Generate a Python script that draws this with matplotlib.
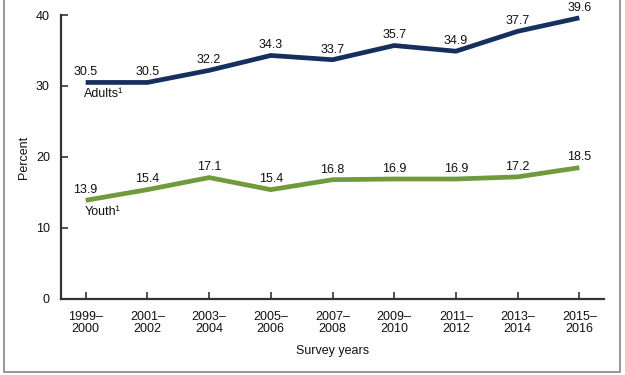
import matplotlib
matplotlib.use('Agg')
import matplotlib.pyplot as plt
from matplotlib.lines import Line2D

plt.rcParams['font.family'] = ['Liberation Sans', 'DejaVu Sans']

# Survey periods and prevalence (percent)
periods = ['1999–\n2000', '2001–\n2002', '2003–\n2004', '2005–\n2006', '2007–\n2008',
           '2009–\n2010', '2011–\n2012', '2013–\n2014', '2015–\n2016']
adults = [30.5, 30.5, 32.2, 34.3, 33.7, 35.7, 34.9, 37.7, 39.6]
youth = [13.9, 15.4, 17.1, 15.4, 16.8, 16.9, 16.9, 17.2, 18.5]

navy = '#15305f'
green = '#6f9b3c'

fig = plt.figure(figsize=(6.25, 3.75), dpi=100)
ax = fig.add_axes([0.0976, 0.2027, 0.8688, 0.7573])

x = list(range(len(periods)))
ax.plot(x, adults, color=navy, linewidth=3.4, solid_capstyle='butt', solid_joinstyle='miter')
ax.plot(x, youth, color=green, linewidth=3.4, solid_capstyle='butt', solid_joinstyle='miter')

# value labels above each point
for xi, v in zip(x, adults):
    ax.annotate(f'{v}', (xi, v), xytext=(0, 3), textcoords='offset points',
                ha='center', va='bottom', fontsize=9, color='#111111')
for xi, v in zip(x, youth):
    ax.annotate(f'{v}', (xi, v), xytext=(0, 3), textcoords='offset points',
                ha='center', va='bottom', fontsize=9, color='#111111')

# series names under first point
ax.annotate('Adults¹', (0, adults[0]), xytext=(-1, -4), textcoords='offset points',
            ha='left', va='top', fontsize=9, color='#111111')
ax.annotate('Youth¹', (0, youth[0]), xytext=(-1, -4), textcoords='offset points',
            ha='left', va='top', fontsize=9, color='#111111')

ax.set_xlim(-0.4, 8.4)
ax.set_ylim(0, 40)
ax.set_yticks([0, 10, 20, 30, 40])
ax.set_xticks(x)
ax.set_xticklabels(periods, fontsize=9, linespacing=1.0)
ax.tick_params(axis='y', labelsize=9, direction='in', length=5, width=1.2,
               colors='#333333', labelcolor='#111111', pad=8)
ax.tick_params(axis='x', direction='in', length=5, width=1.2,
               colors='#333333', labelcolor='#111111', pad=9)

for s in ['top', 'right']:
    ax.spines[s].set_visible(False)
for s in ['left', 'bottom']:
    ax.spines[s].set_color('#333333')
    ax.spines[s].set_linewidth(1.6)

ax.set_ylabel('Percent', fontsize=9, color='#111111', labelpad=4)
ax.set_xlabel('Survey years', fontsize=9, color='#111111', labelpad=7)

# light gray frame around the figure (left, bottom, right)
frame = Line2D([0.007, 0.007, 0.992, 0.992], [1.0, 0.008, 0.008, 1.0],
               transform=fig.transFigure, color='#9a9a9a', linewidth=1.5)
fig.add_artist(frame)

fig.savefig('out.png', dpi=100)
